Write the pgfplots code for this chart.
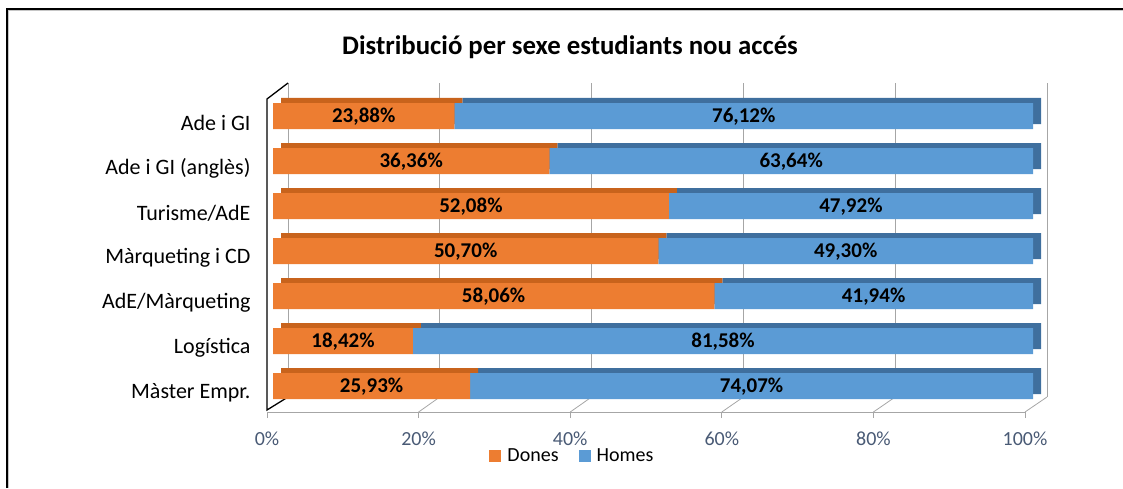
\documentclass[border=0pt]{standalone}
\usepackage{fontspec}
\setmainfont{Carlito}
\usepackage{pgfplots}
\pgfplotsset{compat=1.18}
\usepackage{pgfplotstable}
\definecolor{dones}{HTML}{ED7D31}
\definecolor{donesdark}{HTML}{C8631C}
\definecolor{homes}{HTML}{5B9BD5}
\definecolor{homesdark}{HTML}{3F6F9E}
\definecolor{ticktext}{HTML}{495A75}
\definecolor{gridc}{HTML}{A6A6A6}

\pgfplotstableread{
y dones homes
0 25.93 74.07
1 18.42 81.58
2 58.06 41.94
3 50.70 49.30
4 52.08 47.92
5 36.36 63.64
6 23.88 76.12
}\datatab

\pgfplotstableread{
x y lab
12.965 0 25,93\%
62.965 0 74,07\%
9.21 1 18,42\%
59.21 1 81,58\%
29.03 2 58,06\%
79.03 2 41,94\%
25.35 3 50,70\%
75.35 3 49,30\%
26.04 4 52,08\%
76.04 4 47,92\%
18.18 5 36,36\%
68.18 5 63,64\%
11.94 6 23,88\%
61.94 6 76,12\%
}\labtab

\begin{document}
\begin{tikzpicture}[x=1pt,y=1pt]
\useasboundingbox (0,0) rectangle (1123,488);
% outer frame
\draw[line width=1.6pt] (7,0) -- (7,479) -- (1123,479);
\draw[gray!45, line width=0.8pt] (8.6,0) -- (8.6,477.4) -- (1123,477.4);

% back wall grid
\begin{axis}[at={(288pt,91pt)}, anchor=south west, scale only axis,
  width=759pt, height=314pt, xmin=0, xmax=100, ymin=0, ymax=1,
  xtick={0,20,...,100}, ytick=\empty, xticklabels={}, major tick length=0pt,
  xmajorgrids, grid style={gridc, line width=0.8pt}, axis line style={draw=none}]
\end{axis}

% floor diagonals
\foreach \k in {1,...,5} \draw[gridc, line width=0.8pt] ({267+151.6*\k},76) -- ({288+151.8*\k},91);
% left wall
\draw[black, line width=1.3pt] (288,91) -- (267,78) -- (267,389) -- (288,405);

% front floor edge with ticks
\begin{axis}[at={(267pt,76pt)}, anchor=south west, scale only axis,
  width=758pt, height=10pt, xmin=0, xmax=100, ymin=0, ymax=1,
  axis x line*=bottom, axis y line=none,
  x axis line style={gridc, line width=0.8pt, -},
  xtick={0,20,...,100}, xticklabels={0\%,20\%,40\%,60\%,80\%,100\%},
  tick style={gridc, line width=0.8pt}, tick align=outside, major tick length=6pt,
  xticklabel style={text=ticktext, font=\fontsize{20}{24}\selectfont, yshift=-10pt},
  ytick=\empty]
\end{axis}

% dark (depth) bars
\begin{axis}[at={(281pt,84.5pt)}, anchor=south west, scale only axis,
  width=760pt, height=315pt, xmin=0, xmax=100, ymin=-0.5, ymax=6.5,
  xbar stacked, bar width=26pt, hide axis]
\addplot[fill=donesdark, draw=none] table[x=dones, y=y] {\datatab};
\addplot[fill=homesdark, draw=none] table[x=homes, y=y] {\datatab};
\end{axis}

% front bars
\begin{axis}[at={(273pt,79.5pt)}, anchor=south west, scale only axis,
  width=760pt, height=315pt, xmin=0, xmax=100, ymin=-0.5, ymax=6.5,
  xbar stacked, bar width=26pt, axis line style={draw=none},
  xtick=\empty, ytick={0,...,6}, major tick length=0pt,
  yticklabels={Màster Empr., Logística, AdE/Màrqueting, Màrqueting i CD, Turisme/AdE, Ade i GI (anglès), Ade i GI},
  yticklabel style={font=\fontsize{22}{26}\selectfont, text=black, xshift=-19pt, yshift=-7pt},
  legend style={at={(0.394,-0.151)}, anchor=center, draw=none, fill=none,
    legend columns=2, font=\fontsize{20}{24}\selectfont,
    /tikz/every odd column/.append style={column sep=4pt},
    /tikz/every even column/.append style={column sep=18pt}},
  legend image code/.code={\fill[#1,draw=none] (0pt,-6pt) rectangle (12pt,6pt);}]
\addplot[fill=dones, draw=none] table[x=dones, y=y] {\datatab};
\addlegendentry{Dones}
\addplot[fill=homes, draw=none] table[x=homes, y=y] {\datatab};
\addlegendentry{Homes}
\end{axis}

% value labels
\begin{axis}[at={(273pt,79.5pt)}, anchor=south west, scale only axis,
  width=760pt, height=315pt, xmin=0, xmax=100, ymin=-0.5, ymax=6.5, hide axis]
\addplot[draw=none, mark=none, nodes near coords, point meta=explicit symbolic,
  every node near coord/.append style={anchor=center, yshift=-1pt,
    font=\bfseries\fontsize{21}{25}\selectfont, text=black}]
  table[x=x, y=y, meta=lab] {\labtab};
\end{axis}

% title
\node[font=\bfseries\fontsize{26.8}{31}\selectfont] at (570,441) {Distribució per sexe estudiants nou accés};
\end{tikzpicture}
\end{document}
